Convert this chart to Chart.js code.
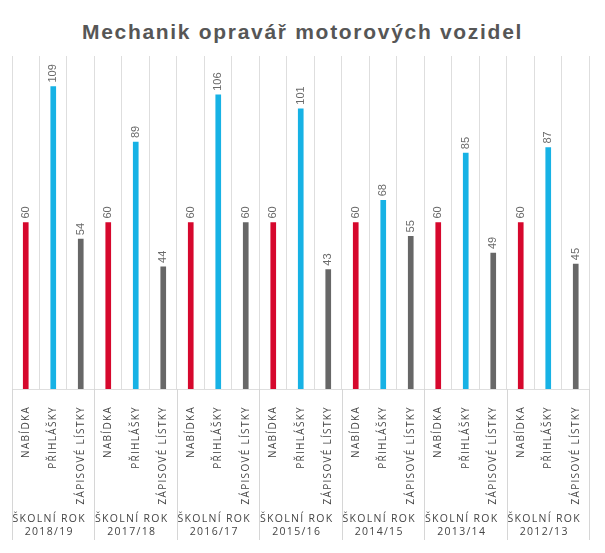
<!DOCTYPE html>
<html>
<head>
<meta charset="utf-8">
<script src="https://cdn.jsdelivr.net/npm/chart.js@4/dist/chart.umd.min.js"></script>
<style>
  html, body { margin: 0; padding: 0; background: #fff; }
  #wrap { position: relative; width: 605px; height: 553px; }
  #title {
    position: absolute; top: 0; left: 0; width: 605px; margin: 0; padding-top: 21px;
    text-align: center; font: bold 21px "Liberation Sans", Arial, sans-serif;
    line-height: 21px; letter-spacing: 1.7px; color: #565656;
  }
  canvas { position: absolute; top: 0; left: 0; }
</style>
</head>
<body>
<div id="wrap">
  <h1 id="title">Mechanik opravář motorových vozidel</h1>
  <canvas id="chart" width="605" height="553"></canvas>
</div>
<script>
// ─── DATA ────────────────────────────────────────────────────────────────
const groupPrefix = 'ŠKOLNÍ ROK';
const years = ['2018/19', '2017/18', '2016/17', '2015/16', '2014/15', '2013/14', '2012/13'];
const seriesNames = ['NABÍDKA', 'PŘIHLÁŠKY', 'ZÁPISOVÉ LÍSTKY'];
const nabidka = [60, 60, 60, 60, 60, 60, 60];
const prihlasky = [109, 89, 106, 101, 68, 85, 87];
const zapisove = [54, 44, 60, 43, 55, 49, 45];
const seriesColors = ['#d6082d', '#17b2e5', '#676767'];

// flatten into one bar per category (3 per school year)
const labels = [], values = [], colors = [];
years.forEach((y, i) => {
  [nabidka[i], prihlasky[i], zapisove[i]].forEach((v, s) => {
    labels.push(seriesNames[s]);
    values.push(v);
    colors.push(seriesColors[s]);
  });
});

// ─── PLUGINS ─────────────────────────────────────────────────────────────
const spacing = {
  id: 'spacing',
  beforeDraw(chart) { chart.ctx.letterSpacing = '1.3px'; }
};

const valueLabels = {
  id: 'valueLabels',
  afterDatasetsDraw(chart) {
    const ctx = chart.ctx;
    const meta = chart.getDatasetMeta(0);
    ctx.save();
    ctx.letterSpacing = '0px';
    ctx.font = '11px "Liberation Sans", Arial, sans-serif';
    ctx.fillStyle = '#6a6a6a';
    ctx.textAlign = 'left';
    ctx.textBaseline = 'middle';
    meta.data.forEach((bar, i) => {
      ctx.save();
      ctx.translate(bar.x, bar.y - 4);
      ctx.rotate(-Math.PI / 2);
      ctx.fillText(String(values[i]), 0, 0);
      ctx.restore();
    });
    ctx.restore();
  }
};

// group separators running down through the label area
const separators = {
  id: 'separators',
  afterDraw(chart) {
    const ctx = chart.ctx, x = chart.scales.x, x2 = chart.scales.x2;
    const n = labels.length;
    ctx.save();
    ctx.strokeStyle = '#d6d6d6';
    ctx.lineWidth = 1;
    for (let g = 0; g <= years.length; g++) {
      const px = Math.round(x.left + (x.right - x.left) * (g * 3) / n) + 0.5;
      ctx.beginPath();
      ctx.moveTo(px, chart.chartArea.bottom);
      ctx.lineTo(px, x2.bottom - 2);
      ctx.stroke();
    }
    ctx.restore();
  }
};

// ─── CHART ───────────────────────────────────────────────────────────────
new Chart(document.getElementById('chart'), {
  type: 'bar',
  data: {
    labels,
    datasets: [{ data: values, backgroundColor: colors, barThickness: 5, xAxisID: 'x' }]
  },
  options: {
    responsive: false,
    animation: false,
    layout: { padding: { top: 56, left: 12, right: 11, bottom: 11 } },
    plugins: { legend: { display: false }, tooltip: { enabled: false } },
    scales: {
      x: {
        type: 'category', offset: true, weight: 0,
        grid: { offset: true, color: '#dedede', drawTicks: false },
        border: { color: '#dedede' },
        ticks: {
          autoSkip: false, minRotation: 90, maxRotation: 90, padding: 17,
          color: '#444', font: { family: 'Open Sans', size: 10 }
        },
        afterFit(s) { s.height = 120; }
      },
      x2: {
        type: 'category', position: 'bottom', offset: true, weight: 1,
        labels: years.map(y => [groupPrefix, y]),
        grid: { display: false },
        border: { display: false },
        ticks: {
          autoSkip: false, maxRotation: 0, padding: -5, labelOffset: -4,
          color: '#444', font: { family: 'Open Sans', size: 10.5, lineHeight: 1.3 }
        },
        afterFit(s) { s.height = 33; }
      },
      y: { display: false, min: 0, max: 120 }
    }
  },
  plugins: [spacing, valueLabels, separators]
});
</script>
</body>
</html>
